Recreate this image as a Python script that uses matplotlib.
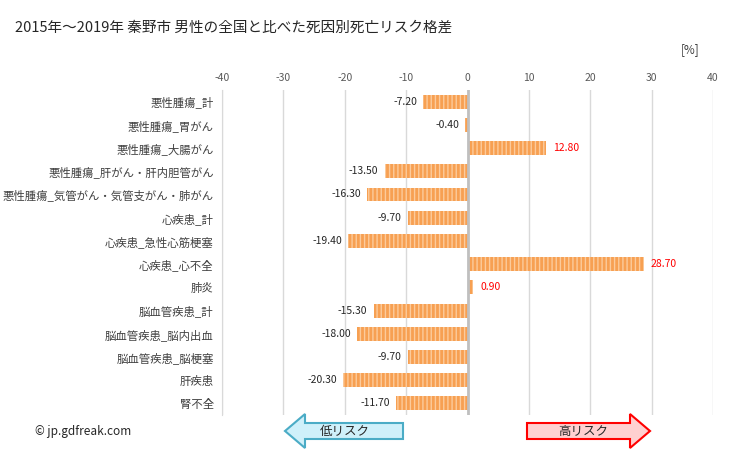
import matplotlib.pyplot as plt
from matplotlib.patches import Polygon
import numpy as np

plt.rcParams['font.family'] = ['Noto Sans CJK JP', 'DejaVu Sans']
plt.rcParams['hatch.linewidth'] = 1.0

# データ
title = '2015年～2019年 秦野市 男性の全国と比べた死因別死亡リスク格差'
categories = ['悪性腫瘍_計', '悪性腫瘍_胃がん', '悪性腫瘍_大腸がん', '悪性腫瘍_肝がん・肝内胆管がん',
              '悪性腫瘍_気管がん・気管支がん・肺がん', '心疾患_計', '心疾患_急性心筋梗塞', '心疾患_心不全',
              '肺炎', '脳血管疾患_計', '脳血管疾患_脳内出血', '脳血管疾患_脳梗塞', '肝疾患', '腎不全']
values = [-7.20, -0.40, 12.80, -13.50, -16.30, -9.70, -19.40, 28.70,
          0.90, -15.30, -18.00, -9.70, -20.30, -11.70]
xticks = [-40, -30, -20, -10, 0, 10, 20, 30, 40]

fig = plt.figure(figsize=(7.29, 4.5), dpi=100)
ax = fig.add_axes([222 / 729, 1 - 415 / 450, 491 / 729, 325 / 450])

y = np.arange(len(categories))
ax.barh(y, values, height=0.6, color='#F7A052', edgecolor='#FCCB9C',
        hatch='||||', linewidth=0, zorder=3)

ax.set_xlim(-40, 40)
ax.set_ylim(len(categories) - 0.5, -0.5)
ax.set_xticks(xticks)
ax.set_xticklabels([str(t) for t in xticks])
ax.xaxis.tick_top()
ax.tick_params(axis='x', length=0, labelsize=7.5, labelcolor='#595959', pad=5)
ax.set_yticks(y)
ax.set_yticklabels(categories)
ax.tick_params(axis='y', length=0, labelsize=8.2, labelcolor='#404040', pad=6)

for t in xticks:
    if t != 0:
        ax.axvline(t, color='#D9D9D9', linewidth=1, zorder=1)
ax.axvline(0, color='#BFBFBF', linewidth=2, zorder=4)

for s in ['top', 'right', 'bottom']:
    ax.spines[s].set_visible(False)
ax.spines['left'].set_color('#D9D9D9')

for yi, v in zip(y, values):
    if v < 0:
        ax.text(v - 1.0, yi, f'{v:.2f}', ha='right', va='center', fontsize=7.5, color='#262626')
    else:
        ax.text(v + 1.2, yi, f'{v:.2f}', ha='left', va='center', fontsize=7.5, color='#FF0000')

fig.text(15 / 729, 1 - 28 / 450, title, fontsize=10.5, color='#262626', va='center')
fig.text(700 / 729, 1 - 50 / 450, '[%]', fontsize=8.5, color='#404040', va='center', ha='right')
fig.text(35 / 729, 1 - 432 / 450, '© jp.gdfreak.com', fontsize=8.5, color='#262626', va='center')

# 下部の矢印
ov = fig.add_axes([0, 0, 1, 1], zorder=10)
ov.set_xlim(0, 729)
ov.set_ylim(450, 0)
ov.axis('off')

def arrow(x_tail, x_tip, yc, face, edge):
    d = 1 if x_tip > x_tail else -1
    hx = x_tip - d * 20
    pts = [(x_tail, yc - 8), (hx, yc - 8), (hx, yc - 17), (x_tip, yc),
           (hx, yc + 17), (hx, yc + 8), (x_tail, yc + 8)]
    ov.add_patch(Polygon(pts, closed=True, facecolor=face, edgecolor=edge, linewidth=1.5))

arrow(403, 285, 431, '#CFF0FA', '#4BACC6')
arrow(527, 650, 431, '#FFD0D0', '#FF0000')
ov.text(345, 431, '低リスク', ha='center', va='center', fontsize=9, color='#262626')
ov.text(583, 431, '高リスク', ha='center', va='center', fontsize=9, color='#262626')

fig.savefig('out.png', dpi=100)
